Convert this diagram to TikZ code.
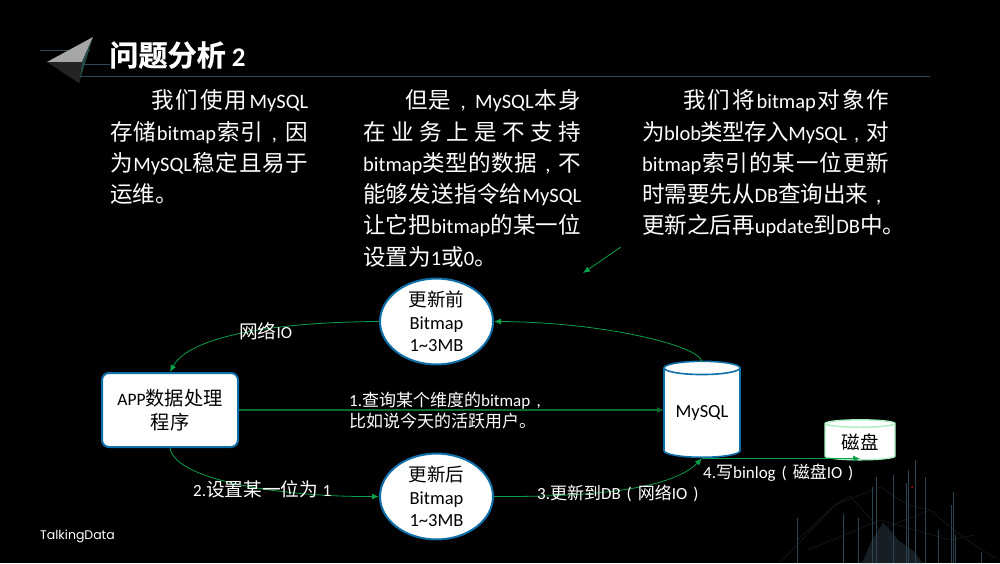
\documentclass[tikz,border=0pt]{standalone}
\usepackage{fontspec}
\usetikzlibrary{shapes.geometric,arrows.meta}
\setmainfont{Carlito}
\newfontfamily\cjk[Scale=1.1]{Noto Sans CJK SC}
\newfontfamily\cjkn{Noto Sans CJK SC}
\newfontfamily\cjkb[Scale=1.08,FakeBold=0.6]{Noto Sans CJK SC Bold}
\newfontfamily\logofont{Poppins}
\newcommand\Z[1]{{\cjk #1}}
\newcommand\Y[1]{{\cjkn #1}}
\newcommand\Cm{\makebox[21pt]{,}}
\newcommand\Cn{\makebox[17pt]{,}}
\newcommand\PL{\makebox[17pt]{(}}
\newcommand\PR{\makebox[17pt]{)}}
\newcommand\ZS{\fontsize{20.5}{24}\selectfont}
\newcommand\JL[2]{\makebox[#1pt][s]{#2}}
\newcommand\G{\hskip 0pt plus 1fil minus 4pt\relax}
\definecolor{grn}{HTML}{0BA04A}
\definecolor{dgrn}{HTML}{0A6B2E}
\definecolor{edgeblue}{HTML}{0F6FA8}
\definecolor{lgrn}{HTML}{A8F0C0}
\definecolor{rule}{HTML}{2E4C58}
\definecolor{net}{HTML}{171F24}
\definecolor{spike}{HTML}{2C4450}
\tikzset{
 body/.style={anchor=west,text=white,inner sep=0pt,font=\ZS,text height=17pt,text depth=2pt},
 conn/.style={draw=grn,line width=0.8pt,-{Latex[length=7pt,width=6pt]}},
 ell/.style={ellipse,draw=edgeblue,line width=2pt,fill=white,text=black,minimum width=113pt,minimum height=83pt,inner sep=0pt,align=center,font=\fontsize{18.5}{22.5}\selectfont},
 lab/.style={text=white,inner sep=0pt,anchor=west,align=left,font=\fontsize{17}{20.5}\selectfont},
 cyl/.style={cylinder,shape border rotate=90,draw,fill=white,text=black,inner sep=0pt,align=center},
 spk/.style={draw=spike,line width=0.6pt},
 netl/.style={draw=net,line width=0.5pt}
}
\begin{document}
\begin{tikzpicture}[x=1pt,y=-1pt]
\useasboundingbox (0,0) rectangle (1000,563);
\fill[black] (0,0) rectangle (1000,563);
% decoration bottom right
\fill[net] (862,563) -- (872,540) -- (883,523) -- (890,530) -- (898,540) -- (915,552) -- (922,563) -- cycle;
\draw[netl] (780,563) -- (835,505) -- (850,496) -- (880,530) -- (930,510) -- (960,535) -- (985,552) -- (995,558);
\draw[netl] (797,540) -- (835,505) -- (880,487) -- (908,505) -- (930,510);
\draw[netl] (808,550) -- (880,520) -- (950,540) -- (975,535);
\foreach \x/\y in {797/518,843/514,858/518,872/487,876/477,893/475,906/483,908/470,915/460,925/477,938/530,953/492,951/505,955/535,981/552}
 \draw[spk] (\x,\y) -- (\x,563);
\fill[red!80!black] (912,487) circle (1pt);
% title decoration
\draw[rule,line width=0.8pt] (40,50.5) -- (90,50.5);
\draw[rule,line width=0.8pt] (60,64) -- (110,64);
\draw[rule,line width=1pt] (80,76.5) -- (930,76.5);
\fill[gray!70] (93,37) -- (47,62) -- (82,62) -- cycle;
\fill[black!60!teal!70!gray] (93,37) -- (82,62) -- (79,83) -- cycle;
\fill[black!72!gray] (47,62) -- (82,62) -- (79,83) -- cycle;
\node[anchor=west,text=white,inner sep=0pt] (title) at (109,55) {\fontsize{27}{30}\selectfont{\cjkb 问题分析} \textbf{2}};
% column 1
\node[body] (a1) at (151,101) {\JL{157}{\Z{我}\G\Z{们}\G\Z{使}\G\Z{用}\G MySQL}};
\node[body] (a2) at (110,133) {\JL{198}{\Z{存}\G\Z{储}\G bitmap\G\Z{索}\G\Z{引}\G\Cm\G\Z{因}}};
\node[body] (a3) at (110,164) {\JL{198}{\Z{为}\G MySQL\G\Z{稳}\G\Z{定}\G\Z{且}\G\Z{易}\G\Z{于}}};
\node[body] (a4) at (110,195) {\Z{运维。}};
% column 2
\node[body] (b1) at (405,101) {\JL{176}{\Z{但}\G\Z{是}\G\Cm\G MySQL\G\Z{本}\G\Z{身}}};
\node[body] (b2) at (363,133) {\JL{218}{\Z{在}\G\Z{业}\G\Z{务}\G\Z{上}\G\Z{是}\G\Z{不}\G\Z{支}\G\Z{持}}};
\node[body] (b3) at (363,164) {\JL{218}{bitmap\G\Z{类}\G\Z{型}\G\Z{的}\G\Z{数}\G\Z{据}\G\Cm\G\Z{不}}};
\node[body] (b4) at (363,195) {\JL{218}{\Z{能}\G\Z{够}\G\Z{发}\G\Z{送}\G\Z{指}\G\Z{令}\G\Z{给}\G MySQL}};
\node[body] (b5) at (363,226) {\JL{218}{\Z{让}\G\Z{它}\G\Z{把}\G bitmap\G\Z{的}\G\Z{某}\G\Z{一}\G\Z{位}}};
\node[body] (b6) at (363,258) {\Z{设置为}1\Z{或}0\Z{。}};
% column 3
\node[body] (c1) at (683,101) {\JL{206}{\Z{我}\G\Z{们}\G\Z{将}\G bitmap\G\Z{对}\G\Z{象}\G\Z{作}}};
\node[body] (c2) at (642,133) {\JL{247}{\Z{为}\G blob\G\Z{类}\G\Z{型}\G\Z{存}\G\Z{入}\G MySQL\G\Cm\G\Z{对}}};
\node[body] (c3) at (642,164) {\JL{247}{bitmap\G\Z{索}\G\Z{引}\G\Z{的}\G\Z{某}\G\Z{一}\G\Z{位}\G\Z{更}\G\Z{新}}};
\node[body] (c4) at (642,195) {\JL{247}{\Z{时}\G\Z{需}\G\Z{要}\G\Z{先}\G\Z{从}\G DB\G\Z{查}\G\Z{询}\G\Z{出}\G\Z{来}\G\Cm}};
\node[body] (c5) at (642,226) {\Z{更新之后再}update\Z{到}DB\Z{中。}};
% diagram nodes
\node[ell] (before) at (436.5,321.5) {\Y{更新前}\\Bitmap\\1\textasciitilde 3MB};
\node[ell] (after) at (436.5,496.5) {\Y{更新后}\\Bitmap\\1\textasciitilde 3MB};
\node[draw=edgeblue,line width=2pt,fill=white,text=black,rounded corners=7pt,minimum width=136pt,minimum height=74pt,inner sep=0pt,align=center,font=\fontsize{17.5}{24}\selectfont] (app) at (170,410) {APP\Z{数据处理}\\\Z{程序}};
\node[cyl,draw=edgeblue,line width=1.6pt,aspect=0.25,minimum width=76pt,minimum height=96pt,font=\fontsize{18.5}{22}\selectfont] (mysql) at (702,413) {MySQL};
\node[cyl,draw=lgrn,line width=1.4pt,aspect=0.2,minimum width=70pt,minimum height=40pt,font=\fontsize{18.5}{22}\selectfont] (disk) at (860,442) {\Y{磁盘}};
\coordinate (f1) at (621,247);
\coordinate (f2) at (583,273);
\coordinate (mtop) at (702,362);
\coordinate (mbot) at (702,458.5);
\coordinate (dbot) at (860,458.5);
\coordinate (mw) at (664,410);
% connectors
\draw[conn] (f1) -- (f2);
\draw[conn] (before.west) .. controls (280,322) and (190,335) .. (app.north);
\draw[conn] (mtop) .. controls (700,345) and (600,322) .. (before.east);
\draw[conn,draw=dgrn,line width=1.2pt] (app.east) -- (mw);
\draw[conn] (app.south) .. controls (175,480) and (280,497) .. (after.west);
\draw[conn] (after.east) .. controls (590,497) and (670,490) .. (mbot);
\draw[conn] (mbot) -- (dbot);
% labels
\node[lab] (l1) at (239,331) {\Z{网络}IO};
\node[lab] (l2) at (349,410.5) {1.\Y{查询某个维度的}bitmap\Cn\\\Y{比如说今天的活跃用户。}};
\node[lab] (l3) at (193,489) {2.\Z{设置某一位为 }1};
\node[lab] (l4) at (537,493) {3.\Y{更新到}DB\PL\Y{网络}IO\PR};
\node[lab] (l5) at (703,473) {4.\Y{写}binlog\PL\Y{磁盘}IO\PR};
\node[anchor=west,text=white,inner sep=0pt,font=\logofont\fontsize{12.5}{14}\selectfont] (logo) at (40,536) {TalkingData};
\end{tikzpicture}
\end{document}
